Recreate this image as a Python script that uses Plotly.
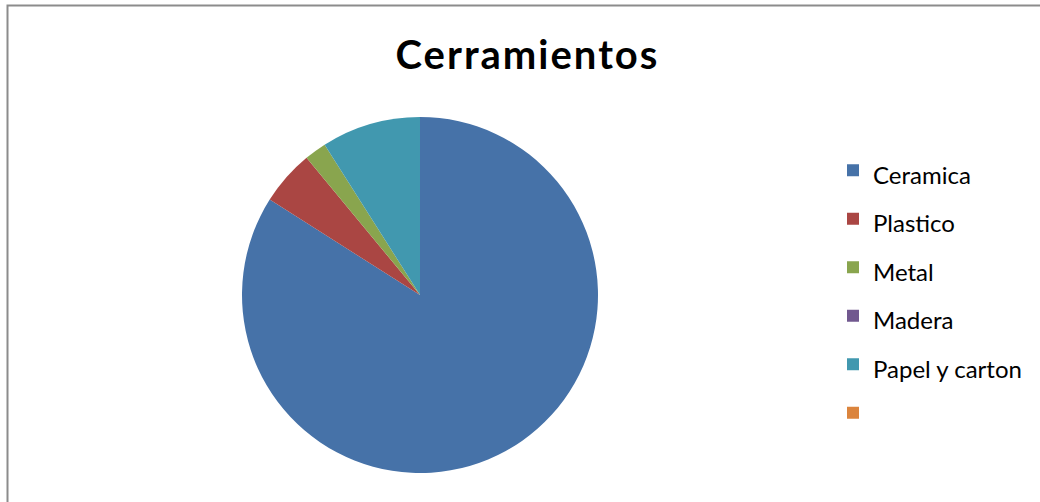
import plotly.graph_objects as go

# Waste composition of the enclosure works (percent)
categories = ["Ceramica", "Plastico", "Metal", "Madera", "Papel y carton", " "]
values = [84, 5, 2, 0, 9, 0]
colors = ["#4672A8", "#AA4643", "#89A54E", "#71588F", "#4198AF", "#DB843D"]

W, H = 1040, 502
LEGEND_ROW_FONT = 35   # sets row pitch of the legend
LABEL_FONT = 24        # visible label size
FONT = "Lato, 'Open Sans', sans-serif"

fig = go.Figure(
    go.Pie(
        labels=[f'<span style="font-size:{LABEL_FONT}px">{c}</span>' for c in categories],
        values=values,
        sort=False,
        direction="clockwise",
        rotation=0,
        textinfo="none",
        hoverinfo="label+percent",
        marker=dict(colors=colors, line=dict(width=0)),
        domain=dict(x=[242 / W, 598 / W], y=[29 / H, 385 / H]),
    )
)

fig.update_layout(
    width=W,
    height=H,
    margin=dict(l=0, r=0, t=0, b=0),
    paper_bgcolor="white",
    plot_bgcolor="white",
    font=dict(family=FONT, color="black"),
    title=dict(
        text='<b><span style="letter-spacing:2px">Cerramientos</span></b>',
        font=dict(size=40, family=FONT, color="black"),
        x=527.5 / W,
        xanchor="center",
        y=1 - 55 / H,
        yanchor="middle",
        xref="paper",
        yref="container",
    ),
    legend=dict(
        x=833 / W,
        xanchor="left",
        y=1 - 141 / H,
        yanchor="top",
        font=dict(size=LEGEND_ROW_FONT, color="black"),
        bgcolor="rgba(0,0,0,0)",
        itemclick=False,
    ),
    showlegend=True,
    shapes=[
        # chart frame (left and top edges visible)
        dict(type="rect", xref="paper", yref="paper",
             x0=7.5 / W, x1=1 + 20 / W, y0=-20 / H, y1=1 - 5.5 / H,
             line=dict(color="#8c8c8c", width=2), fillcolor="rgba(0,0,0,0)"),
    ],
)

fig.write_html("out.html")
